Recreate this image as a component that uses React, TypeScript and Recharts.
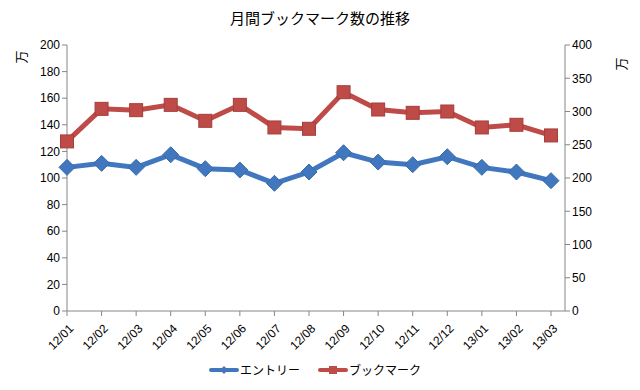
import { LineChart, Line, XAxis, YAxis, Legend } from "recharts";

const months = ["12/01", "12/02", "12/03", "12/04", "12/05", "12/06", "12/07", "12/08", "12/09", "12/10", "12/11", "12/12", "13/01", "13/02", "13/03"];
const entries = [108, 111, 108, 117.5, 107, 106, 96, 104.5, 119, 112, 110, 116, 108, 104.5, 98];
const bookmarks = [255, 304, 302, 310, 286, 310, 276, 274, 329, 303, 298, 300, 276, 280, 264];
const leftTicks = [0, 20, 40, 60, 80, 100, 120, 140, 160, 180, 200];
const rightTicks = [0, 50, 100, 150, 200, 250, 300, 350, 400];

const data = months.map((m, i) => ({ month: m, entry: entries[i], bookmark: bookmarks[i] }));

const BLUE = "#4177be";
const RED = "#be4b48";
const AXIS = "#868686";
const FONT = "'Liberation Sans', Arial, sans-serif";
const JP = "'Noto Sans CJK JP', sans-serif";

const Diamond = (props: any) => {
  const { cx, cy } = props;
  if (cx == null || cy == null) return null;
  const r = 8;
  return (
    <path
      d={`M${cx},${cy - r}L${cx + r},${cy}L${cx},${cy + r}L${cx - r},${cy}Z`}
      fill={BLUE}
      stroke="#3a6aa8"
      strokeWidth={1}
    />
  );
};

const Square = (props: any) => {
  const { cx, cy } = props;
  if (cx == null || cy == null) return null;
  const h = 6.5;
  return <rect x={cx - h} y={cy - h} width={h * 2} height={h * 2} fill={RED} stroke="#a53e3b" strokeWidth={1} />;
};

const XTick = (props: any) => {
  const { x, y, payload } = props;
  return (
    <text
      x={x + 1}
      y={y + 5}
      transform={`rotate(-45 ${x + 1} ${y + 5})`}
      textAnchor="end"
      dominantBaseline="hanging"
      fontSize={12}
      fontFamily={FONT}
      fill="#000"
    >
      {payload.value}
    </text>
  );
};

const LegendContent = () => (
  <div style={{ display: "flex", justifyContent: "center", alignItems: "center", fontFamily: JP, fontSize: 12, color: "#000" }}>
    <svg width={30} height={12} style={{ marginRight: 1 }}>
      <line x1={2} y1={6} x2={28} y2={6} stroke={BLUE} strokeWidth={4} strokeLinecap="round" />
      <path d="M15,2L19,6L15,10L11,6Z" fill={BLUE} />
    </svg>
    <span style={{ marginRight: 18 }}>エントリー</span>
    <svg width={30} height={12} style={{ marginRight: 1 }}>
      <line x1={2} y1={6} x2={28} y2={6} stroke={RED} strokeWidth={4} strokeLinecap="round" />
      <rect x={11} y={2} width={8} height={8} fill={RED} />
    </svg>
    <span>ブックマーク</span>
  </div>
);

export default function App() {
  return (
    <div style={{ position: "absolute", left: 0, top: 0, width: 640, height: 390, background: "#fff" }}>
      <LineChart width={640} height={390} data={data} margin={{ top: 45, right: 10, bottom: 0, left: 0 }}>
        <text x={320} y={24} textAnchor="middle" fontFamily={JP} fontSize={15} fill="#000">
          月間ブックマーク数の推移
        </text>
        <text x={26} y={57} transform="rotate(-90 26 57)" textAnchor="middle" fontFamily={JP} fontSize={13} fill="#000">
          万
        </text>
        <text x={626} y={64} transform="rotate(-90 626 64)" textAnchor="middle" fontFamily={JP} fontSize={13} fill="#000">
          万
        </text>
        <XAxis
          dataKey="month"
          height={50}
          padding={{ left: 0, right: 14 }}
          interval={0}
          tick={<XTick />}
          tickLine={{ stroke: AXIS }}
          axisLine={{ stroke: AXIS }}
          tickSize={5}
        />
        <YAxis
          yAxisId="left"
          width={67}
          domain={[0, 200]}
          ticks={leftTicks}
          interval={0}
          tick={{ fontSize: 12, fontFamily: FONT, fill: "#000" }}
          tickLine={{ stroke: AXIS }}
          axisLine={{ stroke: AXIS }}
          tickSize={5}
        />
        <YAxis
          yAxisId="right"
          orientation="right"
          width={65}
          domain={[0, 400]}
          ticks={rightTicks}
          interval={0}
          tick={{ fontSize: 12, fontFamily: FONT, fill: "#000" }}
          tickLine={{ stroke: AXIS }}
          axisLine={{ stroke: AXIS }}
          tickSize={5}
        />
        <Legend verticalAlign="bottom" height={29} content={<LegendContent />} />
        <Line
          yAxisId="left"
          dataKey="entry"
          name="エントリー"
          stroke={BLUE}
          strokeWidth={5}
          dot={<Diamond />}
          activeDot={false}
          isAnimationActive={false}
        />
        <Line
          yAxisId="right"
          dataKey="bookmark"
          name="ブックマーク"
          stroke={RED}
          strokeWidth={5}
          dot={<Square />}
          activeDot={false}
          isAnimationActive={false}
        />
      </LineChart>
    </div>
  );
}
